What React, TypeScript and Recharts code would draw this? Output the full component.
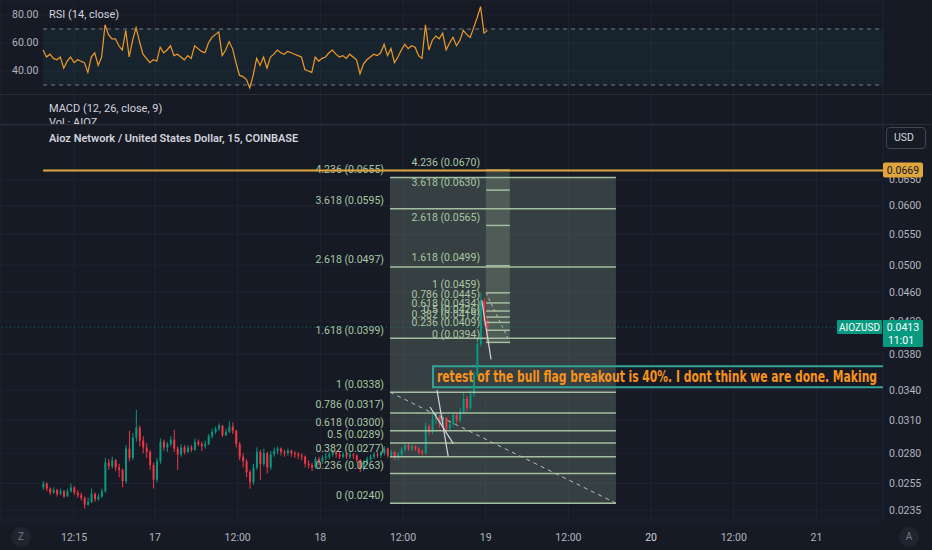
import React from "react";
import {
  ComposedChart,
  Bar,
  Line,
  XAxis,
  YAxis,
  CartesianGrid,
  ReferenceLine,
  ReferenceArea,
} from "recharts";

const BG = "#161a25";
const GRID = "#1f2330";
const TEXT = "#b2b5be";
const TITLE = "#d1d4dc";
const UP = "#089981";
const DOWN = "#f23645";
const FIB_LINE = "#a3bf9f";
const FIB_TEXT = "#a8c8a3";
const FONT = "Roboto, 'Noto Sans', sans-serif";

// hours since 16th 00:00, bars are 30 minutes apart
const firstBarHour = 7.75;
const timeDomain: [number, number] = [1.5, 129.66];
const timeTicks = [12.25, 24, 36, 48, 60, 72, 84, 96, 108, 120];
const timeLabels = ["12:15", "17", "12:00", "18", "12:00", "19", "12:00", "20", "12:00", "21"];

const firstOpen = 0.0252;
const closes = [
  0.0255, 0.0251, 0.0248, 0.025, 0.0247, 0.0249, 0.0245, 0.0249, 0.0252, 0.0248,
  0.0246, 0.0244, 0.0239, 0.0241, 0.0247, 0.0243, 0.0245, 0.0249, 0.0272, 0.0269,
  0.0274, 0.0268, 0.0266, 0.0257, 0.0284, 0.0276, 0.0294, 0.0303, 0.0291, 0.0285,
  0.0281, 0.027, 0.0258, 0.0273, 0.029, 0.0285, 0.0288, 0.0292, 0.0284, 0.0279,
  0.0285, 0.0281, 0.0285, 0.0283, 0.029, 0.0288, 0.0286, 0.0288, 0.0295, 0.0299,
  0.0302, 0.0305, 0.0296, 0.0299, 0.0304, 0.03, 0.0288, 0.0277, 0.0273, 0.0264,
  0.0256, 0.0268, 0.0281, 0.0271, 0.028, 0.0268, 0.0279, 0.0282, 0.0284, 0.0281,
  0.028, 0.0282, 0.028, 0.0279, 0.0278, 0.0277, 0.0271, 0.027, 0.0268, 0.0275,
  0.0273, 0.0276, 0.0277, 0.0279, 0.0281, 0.0279, 0.0277, 0.0279, 0.0277, 0.0279,
  0.0278, 0.0274, 0.0267, 0.0272, 0.0275, 0.0277, 0.0279, 0.0278, 0.028, 0.0284,
  0.0278, 0.0281, 0.0276, 0.0279, 0.0283, 0.0287, 0.0284, 0.0286, 0.0284, 0.0281,
  0.028, 0.0304, 0.0299, 0.0311, 0.0313, 0.0307, 0.0312, 0.0302, 0.0306, 0.0315,
  0.031, 0.0318, 0.0331, 0.0322, 0.0336, 0.0356, 0.0392, 0.0447, 0.0421, 0.0413,
];
const highs = [
  0.0257, 0.0256, 0.0252, 0.0252, 0.0251, 0.0251, 0.025, 0.0251, 0.0255, 0.0253,
  0.025, 0.0248, 0.0245, 0.0244, 0.0251, 0.0248, 0.0247, 0.0251, 0.0276, 0.0275,
  0.0277, 0.0275, 0.0271, 0.0267, 0.0287, 0.03, 0.0298, 0.032, 0.0305, 0.0295,
  0.0289, 0.0283, 0.0272, 0.0276, 0.0293, 0.0292, 0.029, 0.0295, 0.0301, 0.0286,
  0.0288, 0.0287, 0.0287, 0.0287, 0.0293, 0.0292, 0.029, 0.0291, 0.0297, 0.0302,
  0.0304, 0.0307, 0.0305, 0.0302, 0.0309, 0.0308, 0.0301, 0.029, 0.028, 0.0275,
  0.0266, 0.0271, 0.0285, 0.0283, 0.0284, 0.0281, 0.0282, 0.0285, 0.0286, 0.0285,
  0.0283, 0.0284, 0.0283, 0.0282, 0.0281, 0.028, 0.0278, 0.0274, 0.0272, 0.0277,
  0.0277, 0.0278, 0.028, 0.0281, 0.0283, 0.0282, 0.0281, 0.0281, 0.028, 0.0281,
  0.028, 0.0279, 0.0275, 0.0274, 0.0277, 0.0279, 0.0281, 0.0281, 0.0282, 0.0286,
  0.0285, 0.0283, 0.0282, 0.0281, 0.0285, 0.029, 0.0289, 0.0288, 0.0287, 0.0285,
  0.0283, 0.0308, 0.0306, 0.0318, 0.0317, 0.0315, 0.0315, 0.0313, 0.0309, 0.0318,
  0.0317, 0.0322, 0.0338, 0.0334, 0.034, 0.036, 0.0398, 0.0459, 0.0452, 0.0426,
];
const lows = [
  0.025, 0.0249, 0.0246, 0.0247, 0.0245, 0.0246, 0.0244, 0.0245, 0.0248, 0.0246,
  0.0244, 0.0242, 0.0236, 0.0238, 0.024, 0.0241, 0.0242, 0.0244, 0.0248, 0.0266,
  0.0267, 0.0265, 0.026, 0.0252, 0.0255, 0.0273, 0.0274, 0.029, 0.0286, 0.028,
  0.0276, 0.0266, 0.0251, 0.0256, 0.0271, 0.0282, 0.0281, 0.0286, 0.0281, 0.0266,
  0.0277, 0.0279, 0.028, 0.0281, 0.0282, 0.0286, 0.0282, 0.0284, 0.0287, 0.0293,
  0.0297, 0.03, 0.0294, 0.0295, 0.0298, 0.0297, 0.0285, 0.0274, 0.0268, 0.026,
  0.0251, 0.0254, 0.0266, 0.0258, 0.0269, 0.0263, 0.0266, 0.0277, 0.0279, 0.0278,
  0.0277, 0.0278, 0.0277, 0.0276, 0.0275, 0.0274, 0.0268, 0.0267, 0.0265, 0.0267,
  0.027, 0.0271, 0.0274, 0.0275, 0.0277, 0.0276, 0.0275, 0.0276, 0.0275, 0.0275,
  0.0275, 0.0272, 0.0264, 0.0265, 0.027, 0.0273, 0.0275, 0.0276, 0.0276, 0.0278,
  0.0276, 0.0276, 0.0274, 0.0274, 0.0277, 0.0281, 0.0282, 0.0282, 0.0282, 0.0279,
  0.0278, 0.0279, 0.0296, 0.0297, 0.0306, 0.0303, 0.0305, 0.0298, 0.03, 0.0304,
  0.0307, 0.0308, 0.0316, 0.0319, 0.032, 0.0333, 0.0354, 0.0389, 0.0415, 0.0393,
];
const rsi = [
  55, 50, 52, 49, 48, 50, 42, 47, 50, 46,
  48, 47, 46, 39, 50, 53, 44, 50, 73, 66,
  63, 63, 58, 55, 69, 50, 62, 71, 61, 52,
  49, 46, 48, 47, 57, 53, 55, 58, 51, 52,
  50, 48, 51, 49, 58, 56, 54, 53, 60, 64,
  66, 68, 51, 55, 61, 56, 46, 37, 36, 34,
  28, 37, 49, 44, 50, 42, 50, 52, 55, 53,
  52, 54, 53, 52, 51, 50, 41, 40, 39, 50,
  47, 49, 50, 53, 55, 52, 50, 51, 49, 52,
  50, 48, 38, 45, 48, 50, 52, 51, 53, 59,
  51, 56, 46, 50, 55, 59, 56, 58, 57, 51,
  49, 73, 55, 62, 65, 63, 67, 55, 60, 64,
  58, 62, 69, 66, 64, 71, 78, 86, 67, 69,
];

const priceTicks = [0.0235, 0.0255, 0.028, 0.031, 0.034, 0.038, 0.042, 0.046, 0.05, 0.055, 0.06, 0.065];
const priceDomain: [number, number] = [0.02279, 0.077];
const rsiTicks = [40, 60, 80];
const rsiDomain: [number, number] = [2.14, 90.71];

const fibRatios = [0, 0.236, 0.382, 0.5, 0.618, 0.786, 1, 1.618, 2.618, 3.618, 4.236];
const bigFibPrices = [0.024, 0.0263, 0.0277, 0.0289, 0.03, 0.0317, 0.0338, 0.0399, 0.0497, 0.0595, 0.0655];
const smallFibPrices = [0.0394, 0.0409, 0.0419, 0.0426, 0.0434, 0.0445, 0.0459, 0.0499, 0.0565, 0.063, 0.067];
const bigFibSpan = [58.1, 90.9];
const smallFibSpan = [72.05, 75.5];

const resistance = 0.0669;
const lastPrice = 0.0413;
const countdown = "11:01";

// hand drawn flag lines: [t1, p1, t2, p2]
const flagLines = [
  [64.93, 0.034, 66.55, 0.02773],
  [63.91, 0.03229, 67.29, 0.02884],
  [71.42, 0.04488, 72.77, 0.03738],
];

const note = "retest of the bull flag breakout is 40%. I dont think we are done. Making";
const noteBox = { t1: 64.35, p1: 0.03431, p2: 0.0366 };

const rows = closes.map((c, i) => {
  const o = i === 0 ? firstOpen : closes[i - 1];
  const h = Math.max(highs[i], o, c);
  const l = Math.min(lows[i], o, c);
  return { t: firstBarHour + i * 0.5, o, c, h, l, range: [l, h], rsi: rsi[i] };
});

function Candle(props: any) {
  const { x, y, width, height, payload } = props;
  if (!payload || y == null || height == null) return null;
  const { o, c, h, l } = payload;
  const top = Math.min(y, y + height);
  const span = Math.abs(height);
  const lh = Math.log(h);
  const ll = Math.log(l);
  const py = (p: number) => top + (span * (lh - Math.log(p))) / (lh - ll || 1);
  const color = c >= o ? UP : DOWN;
  const b1 = py(Math.max(o, c));
  const b2 = py(Math.min(o, c));
  const cx = x + width / 2;
  return (
    <g>
      <line x1={cx} x2={cx} y1={top} y2={top + span} stroke={color} strokeWidth={1} />
      <rect x={x} y={b1} width={width} height={Math.max(1, b2 - b1)} fill={color} />
    </g>
  );
}

const TimeTick = (props: any) => {
  const { x, y, payload } = props;
  const label = timeLabels[timeTicks.indexOf(payload.value)];
  return (
    <text x={x} y={y + 17} textAnchor="middle" dominantBaseline="central" fill={label === "20" ? TITLE : TEXT} fontSize={10.5} fontFamily={FONT}>
      {label}
    </text>
  );
};

const PriceTick = (props: any) => {
  const { x, y, payload } = props;
  return (
    <text x={x + 6} y={y} dominantBaseline="central" fill={TEXT} fontSize={10.5} fontFamily={FONT}>
      {payload.value.toFixed(4)}
    </text>
  );
};

const RsiTick = (props: any) => {
  const { y, payload } = props;
  return (
    <text x={12} y={y} textAnchor="start" dominantBaseline="central" fill={TEXT} fontSize={10.5} fontFamily={FONT}>
      {payload.value.toFixed(2)}
    </text>
  );
};

const FibLabel = (props: any) => {
  const { viewBox, text } = props;
  if (!viewBox) return null;
  return (
    <text x={viewBox.x - 6} y={viewBox.y - 4.5} textAnchor="end" fill={FIB_TEXT} fontSize={10.5} fontFamily={FONT}>
      {text}
    </text>
  );
};

const GoldTag = (props: any) => {
  const { viewBox } = props;
  if (!viewBox) return null;
  const x = viewBox.x + viewBox.width;
  const y = viewBox.y;
  return (
    <g>
      <rect x={x} y={y - 8} width={40} height={15} rx={2} fill="#e0a53d" />
      <text x={x + 20} y={y} textAnchor="middle" dominantBaseline="central" fill="#131722" fontSize={10.5} fontFamily={FONT}>
        {resistance.toFixed(4)}
      </text>
    </g>
  );
};

const LastTag = (props: any) => {
  const { viewBox } = props;
  if (!viewBox) return null;
  const x = viewBox.x + viewBox.width;
  const y = viewBox.y;
  return (
    <g>
      <rect x={x - 46} y={y - 7} width={45} height={14} rx={1} fill={UP} />
      <text x={x - 23.5} y={y} textAnchor="middle" dominantBaseline="central" fill="#ffffff" fontSize={10} fontFamily={FONT}>
        AIOZUSD
      </text>
      <rect x={x} y={y - 7} width={40} height={27} rx={1} fill={UP} />
      <text x={x + 20} y={y} textAnchor="middle" dominantBaseline="central" fill="#ffffff" fontSize={10.5} fontFamily={FONT}>
        {lastPrice.toFixed(4)}
      </text>
      <text x={x + 18} y={y + 13} textAnchor="middle" dominantBaseline="central" fill="#ffffff" fontSize={10.5} fontFamily={FONT}>
        {countdown}
      </text>
    </g>
  );
};

const NoteLabel = (props: any) => {
  const { viewBox } = props;
  if (!viewBox) return null;
  return (
    <text
      x={viewBox.x + 4}
      y={viewBox.y + viewBox.height / 2}
      dominantBaseline="central"
      fill="#f7931a"
      fontSize={15}
      fontWeight={700}
      fontFamily="'Liberation Sans Narrow', 'DejaVu Sans Condensed', Roboto, sans-serif"
      textLength={440}
      lengthAdjust="spacingAndGlyphs"
    >
      {note}
    </text>
  );
};

const overlayText: React.CSSProperties = {
  position: "absolute",
  left: 49,
  fontSize: 11,
  lineHeight: "14px",
  color: TITLE,
  whiteSpace: "nowrap",
};

const roundBtn: React.CSSProperties = {
  position: "absolute",
  top: 527,
  width: 20,
  height: 20,
  borderRadius: 10,
  background: "#20242f",
  color: "#787b86",
  fontSize: 10,
  lineHeight: "20px",
  textAlign: "center",
};

export default function App() {
  return (
    <div style={{ position: "absolute", left: 0, top: 0, width: 932, height: 550, background: BG, overflow: "hidden", fontFamily: FONT }}>
      {/* RSI + empty MACD pane */}
      <div style={{ position: "absolute", left: 0, top: 0 }}>
        <ComposedChart width={932} height={124} data={rows} margin={{ top: 0, right: 49, bottom: 0, left: -40 }}>
          <CartesianGrid stroke={GRID} />
          <XAxis dataKey="t" type="number" domain={timeDomain} ticks={timeTicks} allowDataOverflow hide />
          <YAxis
            domain={rsiDomain}
            ticks={rsiTicks}
            allowDataOverflow
            width={40}
            axisLine={false}
            tickLine={false}
            tickSize={0}
            tickMargin={0}
            interval={0}
            tick={<RsiTick />}
          />
          <ReferenceArea x1={firstBarHour} x2={timeDomain[1]} y1={30} y2={70} fill="#26a69a" fillOpacity={0.07} stroke="none" />
          <ReferenceLine segment={[{ x: firstBarHour, y: 70 }, { x: timeDomain[1], y: 70 }]} stroke="#787b86" strokeDasharray="4 4" />
          <ReferenceLine segment={[{ x: firstBarHour, y: 30 }, { x: timeDomain[1], y: 30 }]} stroke="#787b86" strokeDasharray="4 4" />
          <Line dataKey="rsi" stroke="#f09a2b" strokeWidth={1.2} dot={false} activeDot={false} isAnimationActive={false} />
        </ComposedChart>
      </div>

      {/* main price pane */}
      <div style={{ position: "absolute", left: 0, top: 125 }}>
        <ComposedChart width={932} height={425} data={rows} margin={{ top: 0, right: 0, bottom: 0, left: 0 }}>
          <CartesianGrid stroke={GRID} />
          <XAxis
            dataKey="t"
            type="number"
            domain={timeDomain}
            ticks={timeTicks}
            allowDataOverflow
            height={30}
            axisLine={false}
            tickLine={false}
            tickSize={0}
            tickMargin={0}
            interval={0}
            tick={<TimeTick />}
          />
          <YAxis
            orientation="right"
            scale="log"
            domain={priceDomain}
            ticks={priceTicks}
            allowDataOverflow
            width={49}
            axisLine={false}
            tickLine={false}
            tickSize={0}
            tickMargin={0}
            interval={0}
            tick={<PriceTick />}
          />
          <Bar dataKey="range" barSize={2} shape={<Candle />} activeBar={false} isAnimationActive={false} />

          <ReferenceArea
            x1={bigFibSpan[0]}
            x2={bigFibSpan[1]}
            y1={bigFibPrices[0]}
            y2={bigFibPrices[10]}
            fill="rgb(150,175,150)"
            fillOpacity={0.25}
            stroke="none"
          />
          <ReferenceArea
            x1={smallFibSpan[0]}
            x2={smallFibSpan[1]}
            y1={smallFibPrices[0]}
            y2={smallFibPrices[10]}
            fill="rgb(150,175,150)"
            fillOpacity={0.25}
            stroke="none"
          />
          {fibRatios.map((r, k) => (
            <ReferenceLine
              key={"big" + k}
              segment={[{ x: bigFibSpan[0], y: bigFibPrices[k] }, { x: bigFibSpan[1], y: bigFibPrices[k] }]}
              stroke={FIB_LINE}
              strokeWidth={1.5}
              label={<FibLabel text={`${r} (${bigFibPrices[k].toFixed(4)})`} />}
            />
          ))}
          {fibRatios.map((r, k) => (
            <ReferenceLine
              key={"small" + k}
              segment={[{ x: smallFibSpan[0], y: smallFibPrices[k] }, { x: smallFibSpan[1], y: smallFibPrices[k] }]}
              stroke={FIB_LINE}
              strokeWidth={1.5}
              label={<FibLabel text={`${r} (${smallFibPrices[k].toFixed(4)})`} />}
            />
          ))}
          <ReferenceLine
            segment={[{ x: bigFibSpan[0], y: bigFibPrices[6] }, { x: bigFibSpan[1], y: bigFibPrices[0] }]}
            stroke="#b8c0b8"
            strokeDasharray="4 4"
          />
          <ReferenceLine
            segment={[{ x: smallFibSpan[0], y: smallFibPrices[6] }, { x: smallFibSpan[1], y: smallFibPrices[0] }]}
            stroke="#b8c0b8"
            strokeDasharray="3 3"
          />
          {flagLines.map((s, k) => (
            <ReferenceLine
              key={"flag" + k}
              segment={[{ x: s[0], y: s[1] }, { x: s[2], y: s[3] }]}
              stroke="#d1d4dc"
              strokeWidth={1.2}
            />
          ))}

          <ReferenceArea
            x1={noteBox.t1}
            x2={140}
            y1={noteBox.p1}
            y2={noteBox.p2}
            ifOverflow="hidden"
            fill="none"
            stroke="#33a598"
            strokeWidth={2}
            label={<NoteLabel />}
          />
        </ComposedChart>
      </div>

      {/* top layer on the same scales: resistance line and price tags sit above the axis labels */}
      <div style={{ position: "absolute", left: 0, top: 125 }}>
        <ComposedChart width={932} height={425} data={rows} margin={{ top: 0, right: 0, bottom: 0, left: 0 }}>
          <XAxis dataKey="t" type="number" domain={timeDomain} allowDataOverflow height={30} axisLine={false} tick={false} tickLine={false} />
          <YAxis
            orientation="right"
            scale="log"
            domain={priceDomain}
            allowDataOverflow
            width={49}
            axisLine={false}
            tick={false}
            tickLine={false}
          />
          <ReferenceLine y={lastPrice} stroke={UP} strokeOpacity={0.7} strokeDasharray="1 3" label={<LastTag />} />
          <ReferenceLine
            segment={[{ x: firstBarHour, y: resistance }, { x: timeDomain[1], y: resistance }]}
            stroke="#e0a53d"
            strokeWidth={2}
            label={<GoldTag />}
          />
        </ComposedChart>
      </div>

      {/* pane separators */}
      <div style={{ position: "absolute", left: 0, top: 94, width: 932, height: 1, background: "#2a2e39" }} />
      <div style={{ position: "absolute", left: 0, top: 124, width: 932, height: 1, background: "#2a2e39" }} />

      {/* legends */}
      <div style={{ ...overlayText, top: 8 }}>RSI (14, close)</div>
      <div style={{ position: "absolute", left: 0, top: 95, width: 883, height: 29, overflow: "hidden" }}>
        <div style={{ ...overlayText, top: 7 }}>MACD (12, 26, close, 9)</div>
        <div style={{ ...overlayText, top: 21 }}>Vol · AIOZ</div>
      </div>
      <div style={{ ...overlayText, top: 132, fontWeight: 600 }}>Aioz Network / United States Dollar, 15, COINBASE</div>

      <div
        style={{
          position: "absolute",
          left: 886,
          top: 127,
          width: 40,
          height: 22,
          border: "1px solid #434651",
          borderRadius: 4,
          boxSizing: "border-box",
          color: TITLE,
          fontSize: 10.5,
          lineHeight: "20px",
          paddingLeft: 7,
        }}
      >
        USD
      </div>
      <div style={{ ...roundBtn, left: 11 }}>Z</div>
      <div style={{ ...roundBtn, left: 899 }}>A</div>
    </div>
  );
}
